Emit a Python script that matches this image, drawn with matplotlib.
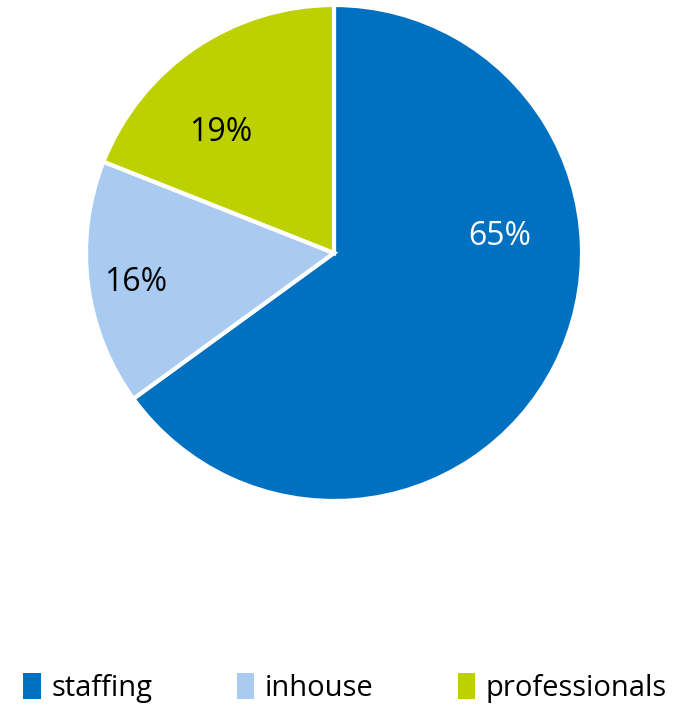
import matplotlib.pyplot as plt

labels = ["staffing", "inhouse", "professionals"]
shares = [65, 16, 19]
colors = ["#0070C0", "#A9CBF1", "#BDD100"]
pct_colors = ["white", "black", "black"]
# label anchors in axis units (pie radius = 1)
pct_pos = [(0.67, 0.065), (-0.8, -0.12), (-0.455, 0.485)]

plt.rcParams["font.family"] = ["Open Sans", "DejaVu Sans"]

fig = plt.figure(figsize=(6.9, 7.07), dpi=100)
ax = fig.add_axes([86 / 690, (707 - 253 - 248) / 707, 496 / 690, 496 / 707])

wedges, _ = ax.pie(shares, colors=colors, startangle=90, counterclock=False,
                   radius=1, wedgeprops=dict(edgecolor="white", linewidth=3))
ax.set_xlim(-1.0, 1.0)
ax.set_ylim(-1.0, 1.0)
ax.set_aspect("equal")

for s, c, (x, y) in zip(shares, pct_colors, pct_pos):
    ax.text(x, y, f"{s}%", color=c, fontsize=23, ha="center", va="center")

leg = fig.legend(wedges, labels, loc="center", bbox_to_anchor=(0.5, 1 - 688 / 707),
                 ncol=3, frameon=False, fontsize=21, handlelength=0.6, handleheight=1.0,
                 handletextpad=0.35, columnspacing=2.9)
for h in leg.legend_handles:
    h.set_edgecolor("none")

fig.savefig("out.png", dpi=100)
